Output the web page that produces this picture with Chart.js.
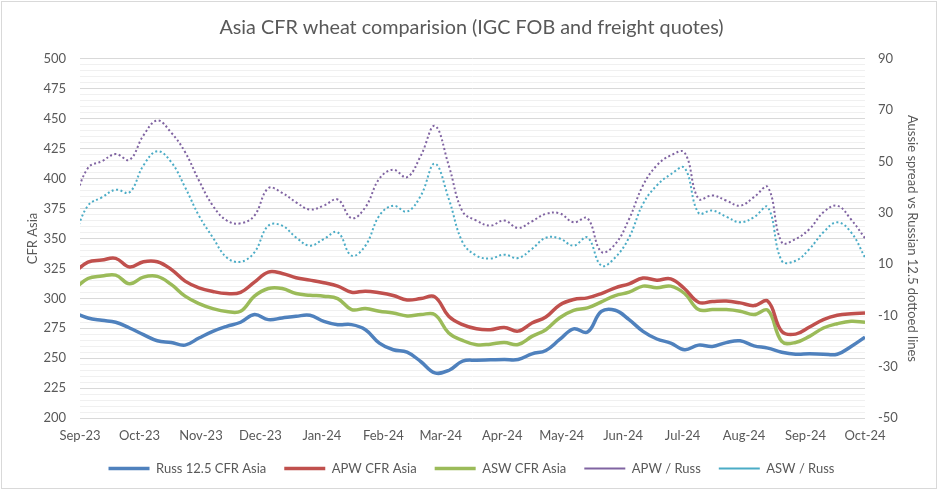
<!DOCTYPE html>
<html>
<head>
<meta charset="utf-8">
<script src="https://cdn.jsdelivr.net/npm/chart.js@4.4.1/dist/chart.umd.min.js"></script>
<style>
  html, body { margin: 0; padding: 0; background: #fff; }
  #wrap { position: relative; width: 943px; height: 491px; }
  #frame { position: absolute; left: 1px; top: 1px; width: 934px; height: 486px; border: 1px solid #d9d9d9; pointer-events: none; }
</style>
</head>
<body>
<div id="wrap"><canvas id="chart"></canvas><div id="frame"></div></div>
<script>
// x axis: month ticks
const monthLabels = ["Sep-23", "Oct-23", "Nov-23", "Dec-23", "Jan-24", "Feb-24", "Mar-24",
  "Apr-24", "May-24", "Jun-24", "Jul-24", "Aug-24", "Sep-24", "Oct-24"];
const monthStarts = ["2023-09-01", "2023-10-01", "2023-11-01", "2023-12-01", "2024-01-01",
  "2024-02-01", "2024-03-01", "2024-04-01", "2024-05-01", "2024-06-01", "2024-07-01",
  "2024-08-01", "2024-09-01", "2024-10-01"];

// weekly quote dates
const weekDates = [
  "2023-08-29", "2023-09-05", "2023-09-12", "2023-09-19", "2023-09-26",
  "2023-10-03", "2023-10-10", "2023-10-17", "2023-10-24", "2023-10-31",
  "2023-11-07", "2023-11-14", "2023-11-21", "2023-11-28",
  "2023-12-05", "2023-12-12", "2023-12-19", "2023-12-26",
  "2024-01-02", "2024-01-09", "2024-01-16", "2024-01-23", "2024-01-30",
  "2024-02-06", "2024-02-13", "2024-02-20", "2024-02-27",
  "2024-03-05", "2024-03-12", "2024-03-19", "2024-03-26",
  "2024-04-02", "2024-04-09", "2024-04-16", "2024-04-23", "2024-04-30",
  "2024-05-07", "2024-05-14", "2024-05-21", "2024-05-28",
  "2024-06-04", "2024-06-11", "2024-06-18", "2024-06-25",
  "2024-07-02", "2024-07-09", "2024-07-16", "2024-07-23", "2024-07-30",
  "2024-08-06", "2024-08-13", "2024-08-20", "2024-08-27",
  "2024-09-03", "2024-09-10", "2024-09-17", "2024-09-24", "2024-10-01"
];

// CFR Asia, USD/t (left axis)
const russ = [288, 283.6, 281.6, 280, 275.2, 269.6, 264.5, 263.1, 260.9, 266.8,
  272.4, 276.6, 280, 286.4, 282.2, 283.6, 285, 285.8, 280.8, 278,
  278, 273.8, 262.6, 257, 255, 247, 237.7, 239.7, 247.5, 248.3,
  248.6, 248.9, 248.9, 253.6, 256.4, 265.6, 274.5, 271.8, 289, 290,
  282.2, 272.4, 266, 262.6, 257, 260.9, 259.8, 263, 264.5, 260.3,
  258.4, 255, 253.3, 253.6, 253.3, 253.3, 259.8, 267.6];
const apw = [321.4, 330.3, 332, 333.4, 326.1, 330.6, 330.6, 324.2, 314.4, 308.8,
  305.7, 304, 305, 313.5, 321.9, 320.8, 317.2, 315.2, 313, 310.2,
  305.1, 306, 304.6, 302.3, 298.6, 299.8, 301.2, 285, 278, 274.6,
  273.8, 275.7, 272.6, 279.4, 284.4, 294.5, 299, 300.4, 304, 308.8,
  312.1, 316.9, 315.2, 316.3, 308, 296.7, 297.3, 297.7, 296.2, 293.9,
  297.6, 272.4, 270.1, 276, 282.2, 285.8, 287.2, 287.8];
const asw = [307.4, 316.6, 318.6, 319.4, 312.1, 317.7, 318.3, 311.6, 301.8, 295.6,
  291.4, 288.9, 289.2, 301.8, 308.2, 308.2, 304, 302.6, 301.8, 299.8,
  290.6, 291.4, 289.2, 287.8, 285.3, 286.4, 286.4, 271, 264.8, 261.2,
  261.7, 263.1, 261.4, 268.2, 273.8, 283.8, 290, 292, 297, 302.3,
  305.1, 310.2, 308.8, 310.2, 304, 290.6, 290.6, 290.6, 289.2, 286.4,
  290, 264, 263.1, 268.2, 275.2, 278.8, 280.8, 280];

// spreads vs Russian 12.5 (right axis)
const apwSpread = [34, 47.5, 50.1, 52.9, 50.7, 60.2, 66, 61.3, 53.7, 42.6,
  32.8, 27, 25.9, 28.9, 39.6, 37.8, 34.1, 31.3, 32.8, 35.2,
  27.9, 32.2, 43.3, 46.8, 43.9, 52.4, 63.9, 48.5, 30.5, 27,
  25, 27, 24.1, 26.7, 29.6, 29.8, 26.3, 27.9, 14.8, 17.8,
  27.6, 40.7, 48.5, 52.4, 53.5, 35.5, 36.8, 34.8, 32.8, 36.1,
  40, 18.5, 19.8, 23.7, 30.2, 32.8, 27.4, 20.1];
const aswSpread = [20.4, 32.8, 36, 39, 38, 48.5, 54, 49.8, 40, 28.9,
  20.4, 12.6, 10.9, 14.6, 25, 25, 20.4, 17.2, 19.8, 22.4,
  13.3, 17.2, 28.9, 32.8, 30.5, 36.8, 49.2, 35.5, 18.5, 13.3,
  12.2, 13.7, 12.4, 15.9, 20.3, 20, 17.2, 20.4, 9.4, 12.6,
  20.4, 33.5, 40.7, 45, 47.5, 30, 30.9, 28.5, 26.3, 28.3,
  32.2, 11.3, 11.3, 15.9, 22.4, 26.3, 22.4, 12.6];

const FONT = "Lato, 'Open Sans', sans-serif";
const GREY = "#595959";

const day0 = Date.parse(monthStarts[0]);
const dayOf = (s) => (Date.parse(s) - day0) / 86400000;
const monthTicks = monthStarts.map(dayOf);
const points = (vals) => weekDates.map((d, i) => ({ x: dayOf(d), y: vals[i] }));

function solid(label, vals, color) {
  return { label, data: points(vals), yAxisID: "y", borderColor: color, backgroundColor: color,
    borderWidth: 3.5, pointRadius: 0, tension: 0.4 };
}
function dotted(label, vals, color) {
  return { label, data: points(vals), yAxisID: "y1", borderColor: color, backgroundColor: color,
    borderWidth: 2, borderDash: [2, 2.5], pointRadius: 0, tension: 0.4 };
}

new Chart(document.getElementById("chart"), {
  type: "line",
  data: {
    datasets: [
      solid("Russ 12.5 CFR Asia", russ, "#4F81BD"),
      solid("APW CFR Asia", apw, "#C0504D"),
      solid("ASW CFR Asia", asw, "#9BBB59"),
      dotted("APW / Russ", apwSpread, "#8064A2"),
      dotted("ASW / Russ", aswSpread, "#4BACC6"),
    ],
  },
  options: {
    responsive: true,
    maintainAspectRatio: false,
    animation: false,
    layout: { padding: { bottom: 6 } },
    plugins: {
      title: {
        display: true,
        text: "Asia CFR wheat comparision (IGC FOB and freight quotes)",
        color: GREY,
        font: { family: FONT, size: 19.8, weight: "normal" },
        padding: { top: 16, bottom: 19.2 },
      },
      legend: {
        position: "bottom",
        labels: {
          color: GREY,
          font: { family: FONT, size: 13 },
          usePointStyle: true,
          pointStyle: "line",
          pointStyleWidth: 41,
          padding: 18,
        },
      },
      tooltip: { enabled: false },
    },
    scales: {
      x: {
        type: "linear",
        min: 0,
        max: monthTicks[monthTicks.length - 1],
        afterBuildTicks: (s) => { s.ticks = monthTicks.map((v) => ({ value: v })); },
        afterFit: (s) => { s.height = 26; },
        ticks: {
          callback: (v, i) => monthLabels[i],
          color: GREY,
          font: { family: FONT, size: 13 },
          autoSkip: false,
          maxRotation: 0,
          padding: 10,
        },
        grid: { display: false, drawTicks: false },
        border: { display: false },
      },
      y: {
        position: "left",
        min: 200,
        max: 500,
        afterFit: (s) => { s.width = 80; },
        ticks: {
          stepSize: 5,
          autoSkip: false,
          callback: (v) => (v % 25 === 0 ? v : ""),
          color: GREY,
          font: { family: FONT, size: 13 },
          padding: 14,
        },
        grid: {
          drawTicks: false,
          color: (c) => (c.tick && c.tick.value % 25 === 0 ? "#d9d9d9" : "#f0f0f0"),
        },
        border: { display: false },
        title: {
          display: true,
          text: "CFR Asia",
          color: GREY,
          font: { family: FONT, size: 13 },
          padding: { top: 25, bottom: 0 },
        },
      },
      y1: {
        position: "right",
        min: -50,
        max: 90,
        afterFit: (s) => { s.width = 78; },
        ticks: {
          stepSize: 20,
          color: GREY,
          font: { family: FONT, size: 13 },
          padding: 13,
        },
        grid: { display: false, drawTicks: false },
        border: { display: false },
        title: {
          display: true,
          text: "Aussie spread vs Russian 12.5 dottoed lines",
          color: GREY,
          font: { family: FONT, size: 13 },
          padding: { top: 23, bottom: 0 },
        },
      },
    },
  },
});
</script>
</body>
</html>
